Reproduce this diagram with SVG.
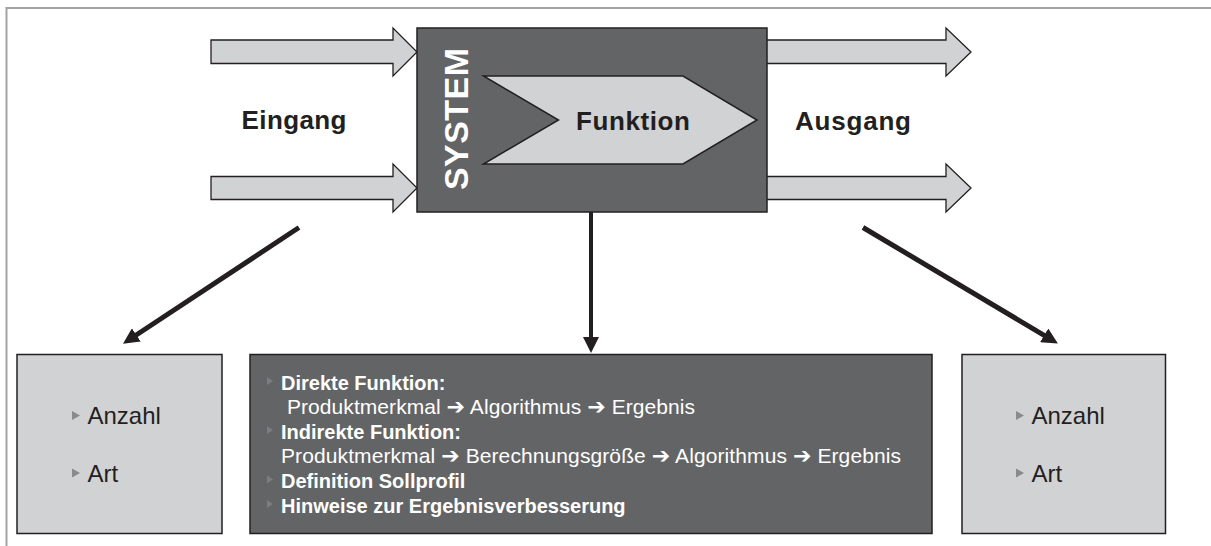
<svg xmlns="http://www.w3.org/2000/svg" width="1211" height="546" viewBox="0 0 1211 546">
  <style>
    .frame { fill: none; stroke: #a3a3a3; stroke-width: 2; }
    .flow { fill: #d1d2d4; stroke: #231f20; stroke-width: 1.3; }
    .dark { fill: #636466; stroke: #231f20; stroke-width: 1.5; }
    .light { fill: #d1d2d4; stroke: #231f20; stroke-width: 1.5; }
    .conn { fill: none; stroke: #231f20; }
    .big { font-family: "Liberation Sans", Arial, sans-serif; font-weight: bold; font-size: 26px; fill: #231f20; }
    .sys { font-family: "Liberation Sans", Arial, sans-serif; font-weight: bold; font-size: 34px; fill: #ffffff; }
    .item { font-family: "Liberation Sans", Arial, sans-serif; font-size: 24px; fill: #231f20; }
    .lst { font-family: "Liberation Sans", Arial, sans-serif; font-size: 20px; fill: #ffffff; }
    .lst-r { font-size: 21px; }
    .lst-b { font-weight: bold; }
    .sym { font-family: "DejaVu Sans", sans-serif; font-weight: bold; font-size: 22px; }
    .bul { fill: #8a8a8c; }
    .bul-d { fill: #7c7d80; }
  </style>
  <defs>
    <marker id="head" viewBox="0 0 16 16" markerWidth="16" markerHeight="16" refX="1" refY="8" orient="auto" markerUnits="userSpaceOnUse">
      <path d="M0,0 L16,8 L0,16 Z" fill="#231f20"/>
    </marker>
  </defs>

  <!-- page frame -->
  <path class="frame" d="M6.5,546 V8 H1211"/>

  <!-- flow arrows into and out of the system -->
  <g id="inputs">
    <polygon class="flow" points="211,40 393,40 393,28 417,52 393,76 393,63.5 211,63.5"/>
    <polygon class="flow" points="211,176.5 393,176.5 393,164 417,188 393,212 393,199.5 211,199.5"/>
    <text class="big" x="241.5" y="129" textLength="105" lengthAdjust="spacing">Eingang</text>
  </g>
  <g id="outputs">
    <polygon class="flow" points="760,40 946,40 946,28 971,52 946,76 946,63.5 760,63.5"/>
    <polygon class="flow" points="760,176.5 946,176.5 946,164 971,188 946,212 946,199.5 760,199.5"/>
    <text class="big" x="795" y="130" textLength="116" lengthAdjust="spacing">Ausgang</text>
  </g>

  <!-- system block with its function chevron -->
  <g id="system">
    <rect class="dark" x="417" y="28" width="350" height="184"/>
    <text class="sys" transform="translate(468,119) rotate(-90)" text-anchor="middle" textLength="142" lengthAdjust="spacing">SYSTEM</text>
  </g>
  <g id="funktion">
    <polygon class="light" stroke-width="1.3" points="483.5,76 683,76 757,120 683,164 483.5,164 558.5,120"/>
    <text class="big" x="576" y="129.5" textLength="114" lengthAdjust="spacing">Funktion</text>
  </g>

  <!-- connectors -->
  <g id="connectors">
    <line class="conn" stroke-width="5" x1="299" y1="227.5" x2="135.5" y2="335.5" marker-end="url(#head)"/>
    <line class="conn" stroke-width="4" x1="591" y1="212" x2="591" y2="338" marker-end="url(#head)"/>
    <line class="conn" stroke-width="5" x1="863" y1="227.5" x2="1045" y2="335.8" marker-end="url(#head)"/>
  </g>

  <!-- input characteristics -->
  <g id="eingang-box">
    <rect class="light" x="17" y="354.5" width="205" height="179"/>
    <polygon class="bul" points="72,411 80,415.5 72,420"/>
    <text class="item" x="87.5" y="424">Anzahl</text>
    <polygon class="bul" points="72,468.5 80,473 72,477.5"/>
    <text class="item" x="87.5" y="481.5">Art</text>
  </g>

  <!-- function description -->
  <g id="funktion-box">
    <rect class="dark" x="250" y="354.5" width="682" height="179"/>
    <polygon class="bul-d" points="267,377 273,381 267,385"/>
    <text class="lst lst-b" x="281" y="389.5">Direkte Funktion:</text>
    <text class="lst lst-r" x="287" y="414" textLength="408" lengthAdjust="spacing">Produktmerkmal <tspan class="sym">➔</tspan> Algorithmus <tspan class="sym">➔</tspan> Ergebnis</text>
    <polygon class="bul-d" points="267,426 273,430 267,434"/>
    <text class="lst lst-b" x="281" y="438.5">Indirekte Funktion:</text>
    <text class="lst lst-r" x="281" y="463.3" textLength="620" lengthAdjust="spacing">Produktmerkmal <tspan class="sym">➔</tspan> Berechnungsgröße <tspan class="sym">➔</tspan> Algorithmus <tspan class="sym">➔</tspan> Ergebnis</text>
    <polygon class="bul-d" points="267,475.5 273,479.5 267,483.5"/>
    <text class="lst lst-b" x="281" y="488">Definition Sollprofil</text>
    <polygon class="bul-d" points="267,500 273,504 267,508"/>
    <text class="lst lst-b" x="281" y="512.7">Hinweise zur Ergebnisverbesserung</text>
  </g>

  <!-- output characteristics -->
  <g id="ausgang-box">
    <rect class="light" x="962" y="354.5" width="203.5" height="179"/>
    <polygon class="bul" points="1016,411 1024,415.5 1016,420"/>
    <text class="item" x="1031.5" y="424">Anzahl</text>
    <polygon class="bul" points="1016,468.5 1024,473 1016,477.5"/>
    <text class="item" x="1031.5" y="481.5">Art</text>
  </g>
</svg>
